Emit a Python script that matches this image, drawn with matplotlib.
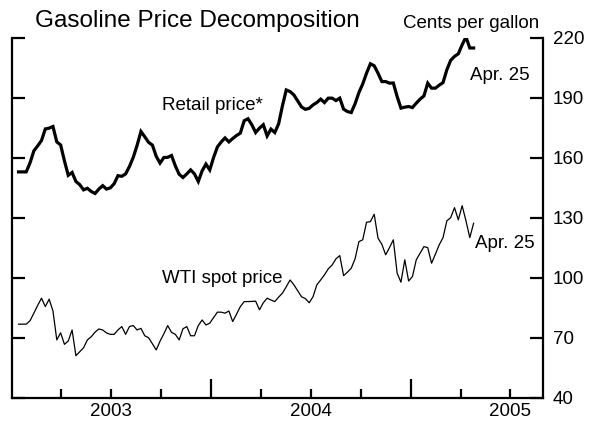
import matplotlib
matplotlib.use('Agg')
import matplotlib.pyplot as plt
import pandas as pd

plt.rcParams['font.family'] = ['Liberation Sans', 'DejaVu Sans']

# weekly data, cents per gallon
semanas = pd.date_range('2003-01-13', '2005-04-25', freq='W-MON')

retail = [153, 153, 153, 157.5, 163.5, 166, 168.7, 174.5, 174.9, 175.7,
          168, 166.5, 158.5, 151.3, 152.7, 148.2, 146.6, 144, 144.8, 143.2,
          142.2, 144.4, 146.1, 144.4, 145, 147.1, 151.1, 150.8, 152, 155.7,
          160.3, 166.3, 173.2, 170.6, 167.8, 166.4, 160.8, 157.4, 160.2, 160.3,
          161.2, 156, 151.8, 150.2, 152, 154, 152, 148.2, 153.5, 156.9,
          154, 160.2, 165.5, 168, 170, 168, 169.7, 171.2, 172.4, 178.6,
          179.6, 176.6, 172.7, 174.9, 176.6, 171, 174.4, 172.7, 177, 186,
          194, 193.2, 191.5, 188.5, 185.5, 184.3, 184.8, 186.5, 187.7, 189.4,
          187.7, 189.9, 189.9, 188.7, 189.9, 184.4, 183.2, 182.7, 187.1, 192.7,
          197, 202.4, 207.1, 206.1, 202.4, 198.2, 198.2, 197.4, 197.5, 190.7,
          184.9, 185.4, 185.7, 185.2, 187.4, 189.4, 191, 197.4, 194.9, 194.9,
          196.4, 197.7, 204.1, 208.8, 210.8, 212.1, 216.6, 220.5, 215, 215]

wti = [76.8, 76.8, 76.8, 78.5, 82.3, 86.2, 89.8, 85.6, 89.3, 83.4,
       68.9, 72.5, 66.7, 68.4, 73.9, 61, 63, 65, 68.9, 70.5,
       72.8, 74.4, 73.9, 72.4, 71.7, 71.7, 73.9, 75.6, 71.7, 75.6,
       76.1, 73.9, 74.7, 71, 70, 67, 63.9, 68.3, 72, 76.1,
       72.7, 71.7, 68.9, 74.5, 75.6, 71, 71, 76.1, 78.9, 76.4,
       77.3, 80.1, 82.8, 82.8, 82.3, 83.4, 78.1, 81.8, 85.6, 88.1,
       88.1, 88.2, 88.3, 84, 87.5, 89.8, 88.9, 88.1, 90.3, 92.3,
       95.5, 98.9, 96.5, 93.5, 90.5, 89.6, 87.5, 90.5, 96.5, 98.9,
       101.5, 104.5, 106.4, 109.5, 111.1, 101.1, 102.8, 104.8, 109.5, 118.1,
       119, 127.8, 128.1, 131.8, 119.8, 116.8, 111.5, 115.1, 119, 102.3,
       97.8, 109, 98.4, 100.6, 109, 112.3, 115.6, 115.1, 107.3, 111.8,
       116.5, 120.1, 128.5, 130.1, 135.1, 129, 136.1, 128.5, 120.1, 127.3]

anios = [2003, 2004, 2005]
yticks = [40, 70, 100, 130, 160, 190, 220]

fig = plt.figure(figsize=(5.89, 4.23), dpi=100)
ax = fig.add_axes([12/589, 25.3/423, 531/589, 359.7/423])

ax.plot(semanas, retail, color='black', lw=2.3, solid_joinstyle='miter')
ax.plot(semanas, wti, color='black', lw=0.9)

ax.set_xlim(pd.Timestamp('2003-01-01'), pd.Timestamp('2005-08-30'))
ax.set_ylim(40, 220)

# ejes
ax.spines['top'].set_visible(False)
for s in ['left', 'right', 'bottom']:
    ax.spines[s].set_linewidth(1.6)

ax.set_yticks(yticks)
ax.set_yticks([220], minor=True)
ax.yaxis.set_ticks_position('both')
ax.tick_params(axis='y', which='major', direction='in', length=9.5, width=1.6,
               labelleft=False, labelright=True, labelsize=13.5, pad=7)
ax.tick_params(axis='y', which='minor', direction='in', length=16.5, width=1.6)

# trimestres y cambios de año
trimestres = [pd.Timestamp(f'{a}-{m:02d}-01') for a in anios for m in (4, 7, 10)
              if pd.Timestamp(f'{a}-{m:02d}-01') < pd.Timestamp('2005-08-30')]
ax.set_xticks([pd.Timestamp(f'{a}-01-01') for a in anios[1:]])
ax.set_xticks(trimestres, minor=True)
ax.tick_params(axis='x', which='major', direction='in', length=13.5, width=1.6,
               labelbottom=False)
ax.tick_params(axis='x', which='minor', direction='in', length=6.5, width=1.6)

for a in anios:
    ax.text(pd.Timestamp(f'{a}-07-01'), -0.016, str(a), transform=ax.get_xaxis_transform(),
            ha='center', va='top', fontsize=13.5)

# textos
fig.text(35/589, 1 - 27/423, 'Gasoline Price Decomposition', fontsize=17.5, va='baseline')
fig.text(539/589, 1 - 28/423, 'Cents per gallon', fontsize=13.5, ha='right', va='baseline')
fig.text(162/589, 1 - 110/423, 'Retail price*', fontsize=13.5, va='baseline')
fig.text(162/589, 1 - 283/423, 'WTI spot price', fontsize=13.5, va='baseline')
fig.text(470/589, 1 - 80/423, 'Apr. 25', fontsize=13.5, va='baseline')
fig.text(475/589, 1 - 248/423, 'Apr. 25', fontsize=13.5, va='baseline')

fig.savefig('out.png', dpi=100)
